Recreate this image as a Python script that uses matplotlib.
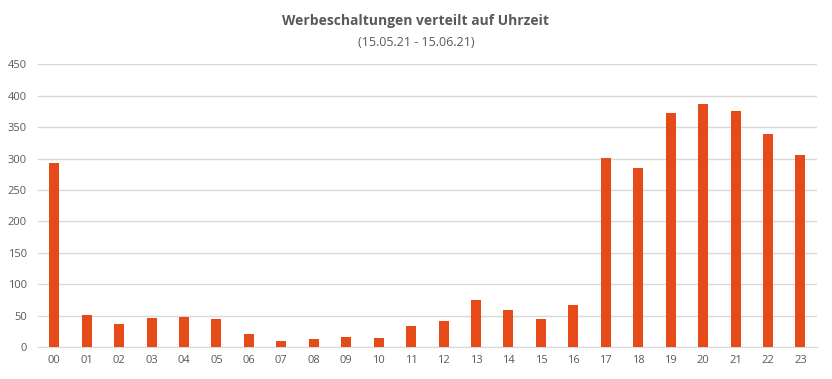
import matplotlib
matplotlib.use('Agg')
import matplotlib.pyplot as plt

# Stunden und Anzahl Werbeschaltungen
hours = ['00', '01', '02', '03', '04', '05', '06', '07', '08', '09', '10', '11',
         '12', '13', '14', '15', '16', '17', '18', '19', '20', '21', '22', '23']
counts = [293, 51, 37, 46, 48, 45, 21, 10, 13, 16, 14, 34,
          42, 75, 59, 45, 67, 301, 285, 373, 387, 376, 339, 306]
y_ticks = [0, 50, 100, 150, 200, 250, 300, 350, 400, 450]

plt.rcParams['font.family'] = ['Open Sans', 'DejaVu Sans']

fig = plt.figure(figsize=(8.32, 3.79), dpi=100)
ax = fig.add_axes([0.0457, 0.0844, 0.9359, 0.7456])

x = range(len(hours))
ax.bar(x, counts, width=0.31, color='#E64A19', zorder=3)

ax.set_xlim(-0.5, len(hours) - 0.5)
ax.set_ylim(0, 450)
ax.set_yticks(y_ticks)
ax.set_xticks(list(x))
ax.set_xticklabels(hours)

ax.grid(axis='y', color='#D9D9D9', linewidth=1, zorder=0)
for side in ['top', 'right', 'left']:
    ax.spines[side].set_visible(False)
ax.spines['bottom'].set_color('#D9D9D9')
ax.tick_params(axis='both', length=0, labelsize=8, colors='#595959')
ax.tick_params(axis='x', pad=6)
ax.tick_params(axis='y', pad=8)

fig.text(0.5, 0.945, 'Werbeschaltungen verteilt auf Uhrzeit', ha='center', va='center',
         fontsize=10, fontweight='bold', color='#595959')
fig.text(0.5, 0.888, '(15.05.21 - 15.06.21)', ha='center', va='center',
         fontsize=9, color='#595959')

fig.savefig('out.png', dpi=100)
